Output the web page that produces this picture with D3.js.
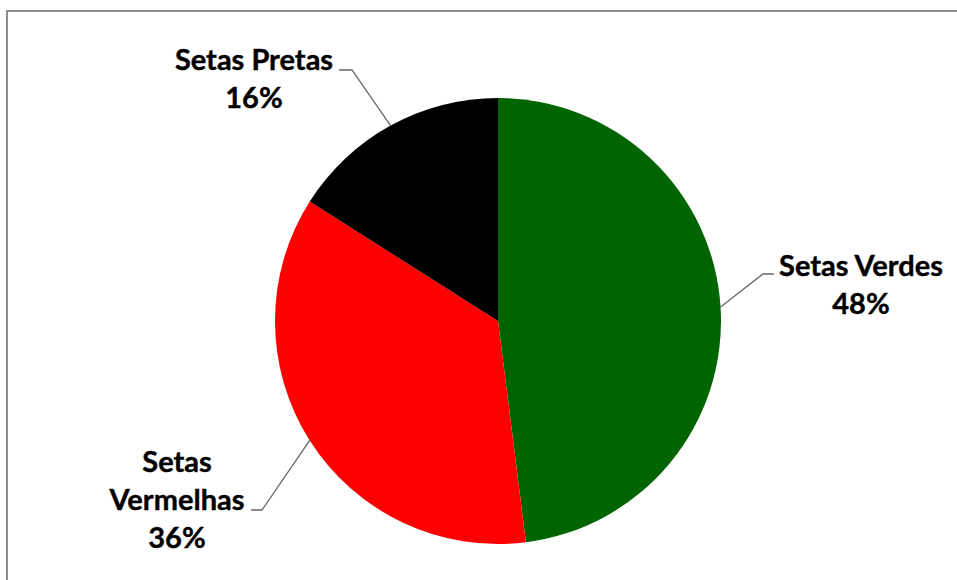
<!DOCTYPE html>
<html>
<head>
<meta charset="utf-8">
<script src="https://cdn.jsdelivr.net/npm/d3@7"></script>
<style>
  html, body { margin: 0; padding: 0; background: #fff; overflow: hidden; }
  svg { display: block; }
</style>
</head>
<body>
<svg id="chart" width="957" height="580"></svg>
<script>
// Pie data (clockwise from 12 o'clock)
const categories = ["Setas Verdes", "Setas Vermelhas", "Setas Pretas"];
const values = [48, 36, 16];
const colors = ["#006400", "#FF0000", "#000000"];

// label layout: text lines, anchor center, first baseline, elbow of the leader
const labelLines = [["Setas Verdes"], ["Setas", "Vermelhas"], ["Setas Pretas"]];
const labelPos = [
  { x: 861, y: 276, elbow: [763, 274], end: [774, 274] },
  { x: 177, y: 472, elbow: [262, 510], end: [251, 510] },
  { x: 254, y: 70, elbow: [352, 70], end: [339, 70] }
];

const width = 957, height = 580;
const cx = 498, cy = 321, radius = 223;
const lineGap = 38;

const svg = d3.select("#chart");

// frame (only left and top edges visible in the crop)
svg.append("rect")
  .attr("x", 7).attr("y", 11)
  .attr("width", width + 20).attr("height", height + 20)
  .attr("fill", "#fff")
  .attr("stroke", "#8c8c8c")
  .attr("stroke-width", 2);

const pie = d3.pie().sort(null).value(d => d);
const arcs = pie(values);
const arc = d3.arc().innerRadius(0).outerRadius(radius);

const g = svg.append("g").attr("transform", `translate(${cx},${cy})`);

g.selectAll("path.slice")
  .data(arcs)
  .join("path")
  .attr("class", "slice")
  .attr("d", arc)
  .attr("fill", (d, i) => colors[i]);

// leader lines + labels
const total = d3.sum(values);
arcs.forEach((d, i) => {
  const mid = (d.startAngle + d.endAngle) / 2;
  const px = cx + radius * Math.sin(mid);
  const py = cy - radius * Math.cos(mid);
  const p = labelPos[i];
  svg.append("path")
    .attr("d", d3.line()([[px, py], p.elbow, p.end]))
    .attr("fill", "none")
    .attr("stroke", "#666")
    .attr("stroke-width", 1.3);

  const t = svg.append("text")
    .attr("x", p.x).attr("y", p.y)
    .attr("text-anchor", "middle")
    .attr("font-family", "Lato, 'Open Sans', sans-serif")
    .attr("font-weight", "bold")
    .attr("font-size", 29)
    .attr("fill", "#000")
    .attr("stroke", "#000")
    .attr("stroke-width", 0.4);
  const lines = labelLines[i].concat([Math.round(values[i] / total * 100) + "%"]);
  lines.forEach((ln, k) => {
    t.append("tspan")
      .attr("x", p.x)
      .attr("y", p.y + k * lineGap)
      .text(ln);
  });
});
</script>
</body>
</html>
